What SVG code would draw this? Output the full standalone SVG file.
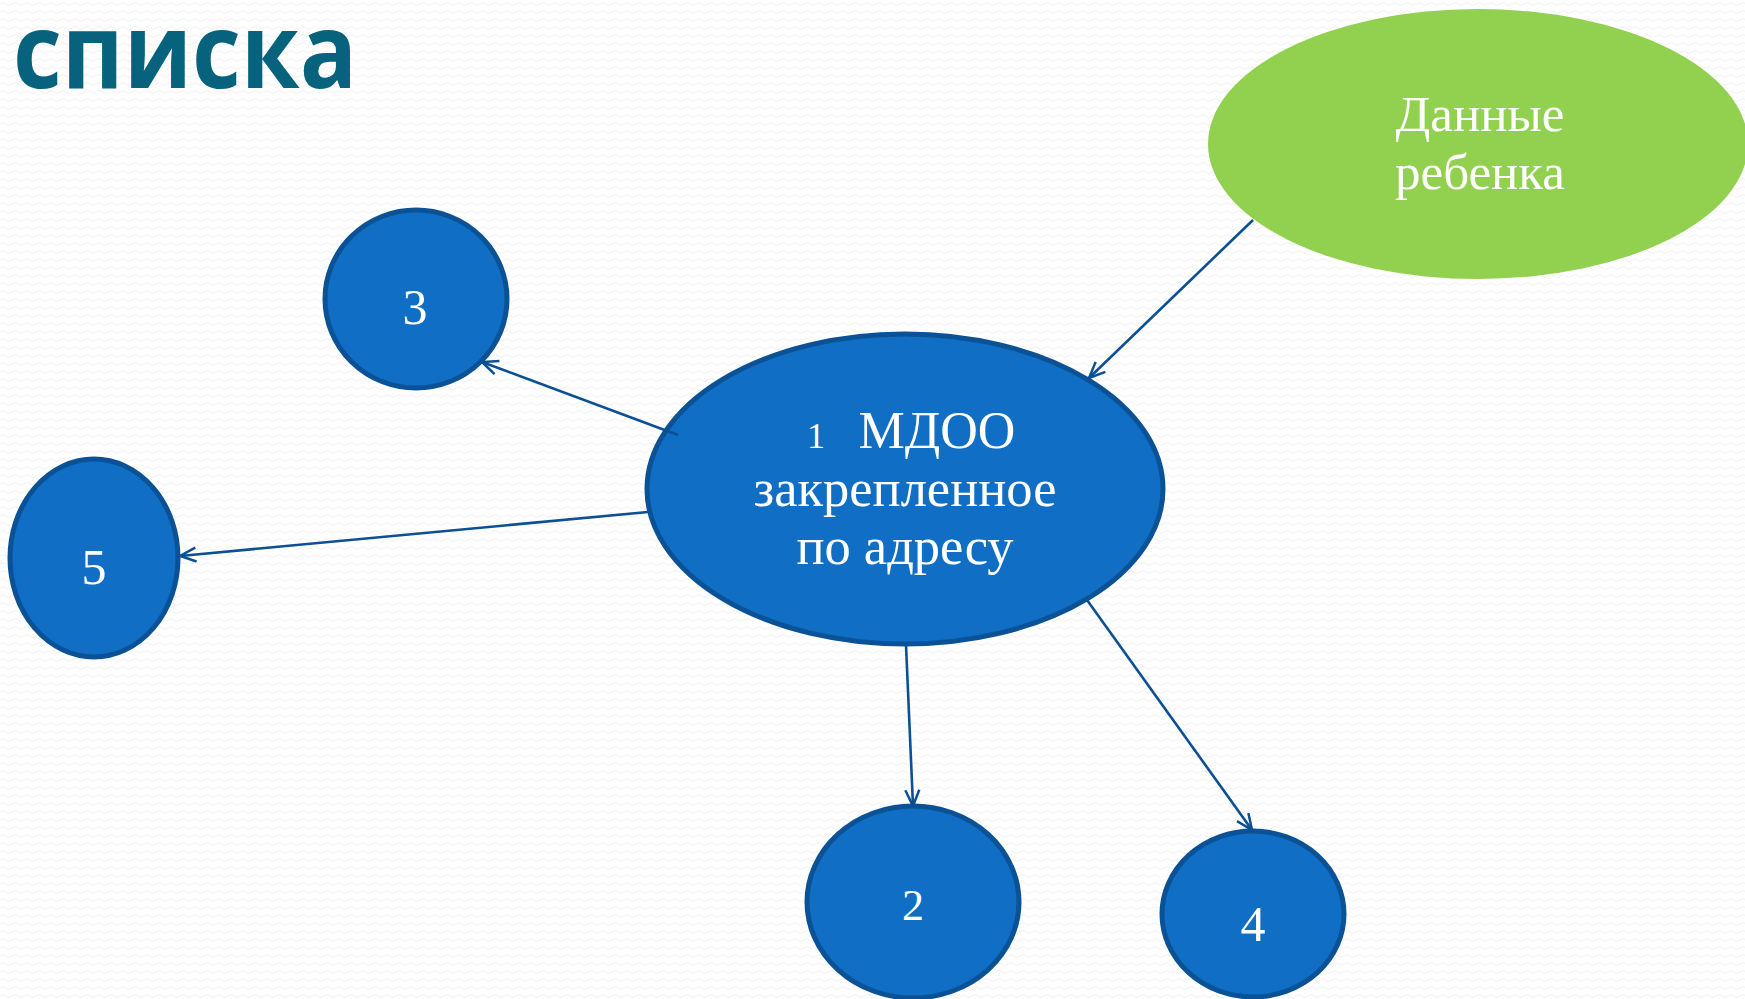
<svg xmlns="http://www.w3.org/2000/svg" width="1745" height="999" viewBox="0 0 1745 999">
<defs>
<pattern id="bg" width="12" height="8" patternUnits="userSpaceOnUse">
<rect width="12" height="8" fill="#FFFFFF"/>
<path d="M0,4 Q3,1 6,4 T12,4" fill="none" stroke="#F1F1F1" stroke-width="1"/>
</pattern>
<marker id="arr" viewBox="0 0 20 20" refX="18" refY="10" markerWidth="20" markerHeight="20" markerUnits="userSpaceOnUse" orient="auto">
<path d="M2,3 L18,10 L2,17" fill="none" stroke="#0B4F94" stroke-width="2.5"/>
</marker>
<style>
.blue{fill:#106EC4;stroke:#0A5295;stroke-width:5}
.lbl{font-family:"Liberation Serif",serif;fill:#FFFFFF;text-anchor:middle}
.con{stroke:#0B4F94;stroke-width:2.6;fill:none;marker-end:url(#arr)}
</style>
</defs>
<rect width="1745" height="999" fill="url(#bg)"/>
<text x="13" y="88" font-family="'Open Sans',sans-serif" font-weight="700" font-size="104" fill="#07627D" textLength="344" lengthAdjust="spacingAndGlyphs">списка</text>
<g id="node-data">
<ellipse cx="1478" cy="144" rx="270" ry="135" fill="#92D050"/>
<text class="lbl" font-size="51" x="1480" y="131">Данные</text>
<text class="lbl" font-size="51" x="1480" y="189">ребенка</text>
</g>
<g id="node-1">
<ellipse class="blue" cx="905" cy="489" rx="258" ry="155"/>
<text class="lbl" font-size="52" x="905" y="448"><tspan font-size="36" x="816">1</tspan><tspan x="937">МДОО</tspan></text>
<text class="lbl" font-size="52.5" x="905" y="506">закрепленное</text>
<text class="lbl" font-size="52.5" x="905" y="564">по адресу</text>
</g>
<g id="node-3">
<ellipse class="blue" cx="416" cy="299" rx="91" ry="89"/>
<text class="lbl" font-size="50" x="415" y="324">3</text>
</g>
<g id="node-5">
<ellipse class="blue" cx="94" cy="558" rx="84" ry="99"/>
<text class="lbl" font-size="50" x="94" y="584">5</text>
</g>
<g id="node-2">
<ellipse class="blue" cx="913" cy="902" rx="106" ry="96"/>
<text class="lbl" font-size="44" x="913" y="920">2</text>
</g>
<g id="node-4">
<ellipse class="blue" cx="1253" cy="914" rx="91" ry="83"/>
<text class="lbl" font-size="50" x="1253" y="941">4</text>
</g>
<g id="connectors">
<line class="con" x1="1253" y1="220" x2="1089" y2="378"/>
<line class="con" x1="678" y1="435" x2="482" y2="362"/>
<line class="con" x1="648" y1="512" x2="180" y2="556"/>
<line class="con" x1="906" y1="645" x2="913" y2="806"/>
<line class="con" x1="1087" y1="600" x2="1252" y2="830"/>
</g>
</svg>
